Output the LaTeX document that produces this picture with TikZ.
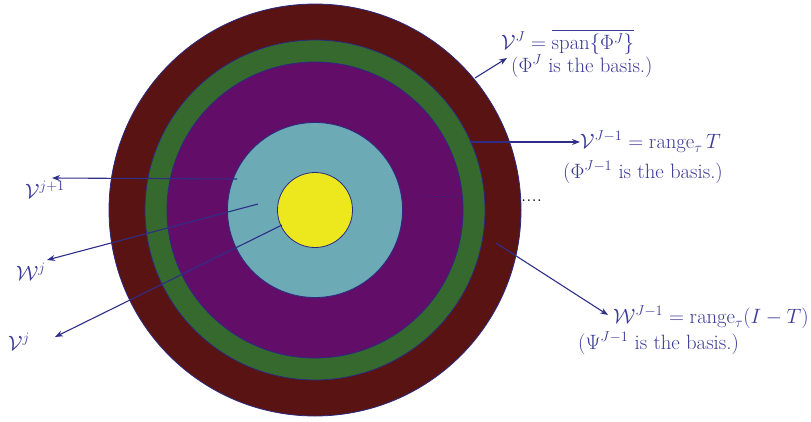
\documentclass[tikz,border=0pt]{standalone}
\usepackage{amsmath}
\usetikzlibrary{arrows.meta}
\definecolor{ringred}{HTML}{5A1313}
\definecolor{ringgreen}{HTML}{35692D}
\definecolor{ringpurple}{HTML}{620E68}
\definecolor{ringblue}{HTML}{6CAAB5}
\definecolor{ringyellow}{HTML}{EDE81E}
\definecolor{outline}{HTML}{2A2A80}
\definecolor{arrowcol}{HTML}{2E2E88}
\definecolor{textcol}{HTML}{3A3A98}
\begin{document}
\begin{tikzpicture}[x=1pt,y=-1pt,
  ring/.style={draw=outline, line width=0.8pt},
  arr/.style={draw=arrowcol, line width=1.1pt, -{Stealth[length=8pt,width=6pt]}},
  lbl/.style={text=textcol, font=\fontsize{20.74}{24}\selectfont, inner sep=0pt, anchor=base west}]
\useasboundingbox (0,0) rectangle (811,421);
% rings
\coordinate (c) at (315,210);
\path[ring, fill=ringred]    (c) circle[radius=206];
\path[ring, fill=ringgreen]  (c) circle[radius=170];
\path[ring, fill=ringpurple] (c) circle[radius=148];
\path[ring, fill=ringblue]   (c) circle[radius=87.5];
\path[ring, fill=ringyellow] (c) circle[radius=37.5];
% dotted line inside
\coordinate (d1) at (425,196);
\coordinate (d2) at (463,196);
\draw[outline, line width=0.8pt, dotted] (d1) -- (d2);
\node[lbl, text=black] (dots) at (521,201) {....};
% labels
\node[lbl] (vJa) at (501,49) {$\mathcal{V}^J = \overline{\operatorname{span}\{\Phi^J\}}$};
\node[lbl] (vJb) at (511,72) {$(\Phi^J$ is the basis.)};
\node[lbl] (vJ1a) at (580,148) {$\mathcal{V}^{J-1} = \operatorname{range}_\tau T$};
\node[lbl] (vJ1b) at (563,178) {$(\Phi^{J-1}$ is the basis.)};
\node[lbl] (wJ1a) at (613,323) {$\mathcal{W}^{J-1} = \operatorname{range}_\tau (I-T)$};
\node[lbl] (wJ1b) at (578,349) {$(\Psi^{J-1}$ is the basis.)};
\node[lbl] (vj1) at (25,198) {$\mathcal{V}^{j+1}$};
\node[lbl] (wj) at (16,280) {$\mathcal{W}^{j}$};
\node[lbl] (vj) at (8,350) {$\mathcal{V}^{j}$};
% arrow ends
\coordinate (s1) at (475,78);  \coordinate (e1) at (507,58);
\coordinate (s2) at (470,142); \coordinate (e2) at (580,142);
\coordinate (s3) at (496,243); \coordinate (e3) at (608,315);
\coordinate (s4) at (237,179); \coordinate (e4) at (52,178);
\coordinate (s5) at (258,204); \coordinate (e5) at (47,260);
\coordinate (s6) at (282,225); \coordinate (e6) at (55,337);
\draw[arr] (s1) -- (e1);
\draw[arr] (s2) -- (e2);
\draw[arr] (s3) -- (e3);
\draw[arr] (s4) -- (e4);
\draw[arr] (s5) -- (e5);
\draw[arr] (s6) -- (e6);
\end{tikzpicture}
\end{document}
